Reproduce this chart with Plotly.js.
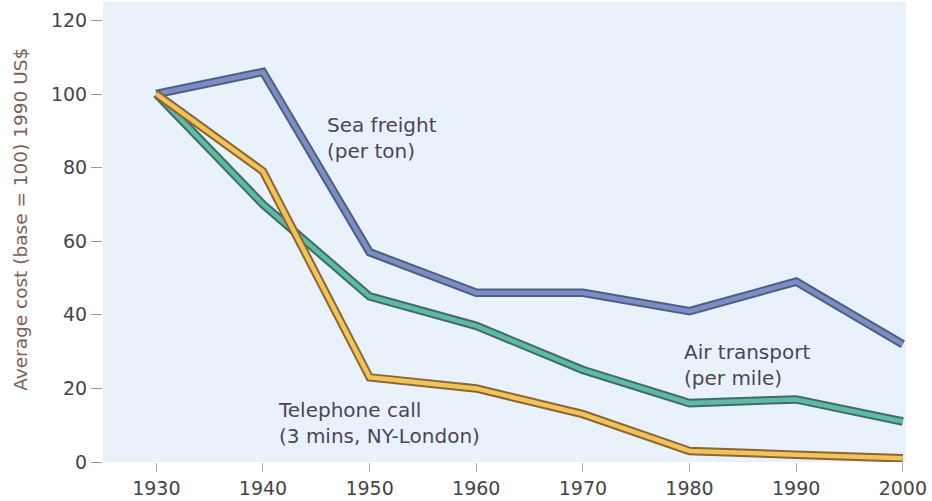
<!DOCTYPE html>
<html>
<head>
<meta charset="utf-8">
<script src="https://cdn.plot.ly/plotly-3.0.1.min.js"></script>
<style>html,body{margin:0;padding:0;background:#fff;}#chart{width:932px;height:501px;}</style>
</head>
<body>
<div id="chart"></div>
<script>
const years = [1930, 1940, 1950, 1960, 1970, 1980, 1990, 2000];
const seaFreight = [100, 106, 57, 46, 46, 41, 49, 32];
const airTransport = [100, 70, 45, 37, 25, 16, 17, 11];
const telephoneCall = [100, 79, 23, 20, 13, 3, 2, 1];
const yTicks = [0, 20, 40, 60, 80, 100, 120];

function pair(y, edge, fill) {
  return [
    {x: years, y: y, mode: 'lines', line: {color: edge, width: 8.5}, hoverinfo: 'skip', showlegend: false},
    {x: years, y: y, mode: 'lines', line: {color: fill, width: 4.5}, showlegend: false}
  ];
}

const data = [].concat(
  pair(seaFreight, '#4f5d88', '#7a8fc0'),
  pair(airTransport, '#3f6c68', '#5fbaa2'),
  pair(telephoneCall, '#8a6632', '#f1c35a')
);

const fam = 'DejaVu Sans, Liberation Sans, Arial, sans-serif';
const annFont = {family: fam, size: 20, color: '#4a4658'};
const layout = {
  width: 932, height: 501,
  margin: {l: 103, r: 26, t: 2, b: 39},
  paper_bgcolor: '#ffffff',
  plot_bgcolor: '#e9f2fb',
  font: {family: fam, size: 19, color: '#454545'},
  xaxis: {
    range: [1925, 2000.3], tickvals: years, ticktext: years.map(String),
    ticks: 'outside', ticklen: 9, tickcolor: '#aaa', tickwidth: 1,
    showgrid: false, zeroline: false, showline: false, fixedrange: true
  },
  yaxis: {
    range: [0, 125], tickvals: yTicks,
    ticks: 'outside', ticklen: 11, tickcolor: '#999', tickwidth: 1,
    showgrid: false, zeroline: false, showline: false, automargin: false
  },
  annotations: [
    {x: -0.103, y: 0.527, xref: 'paper', yref: 'paper', text: 'Average cost (base = 100) 1990 US$', textangle: -90, showarrow: false, xanchor: 'center', yanchor: 'middle', font: {family: fam, size: 18.5, color: '#7d5e58'}},
    {x: 1945.8, y: 88, xref: 'x', yref: 'y', text: 'Sea freight<br>(per ton)', showarrow: false, xanchor: 'left', yanchor: 'middle', align: 'left', font: annFont},
    {x: 1979.3, y: 26.4, xref: 'x', yref: 'y', text: 'Air transport<br>(per mile)', showarrow: false, xanchor: 'left', yanchor: 'middle', align: 'left', font: annFont},
    {x: 1941.2, y: 10.6, xref: 'x', yref: 'y', text: 'Telephone call<br>(3 mins, NY-London)', showarrow: false, xanchor: 'left', yanchor: 'middle', align: 'left', font: annFont}
  ]
};

Plotly.newPlot('chart', data, layout, {displayModeBar: false, staticPlot: true});
</script>
</body>
</html>
